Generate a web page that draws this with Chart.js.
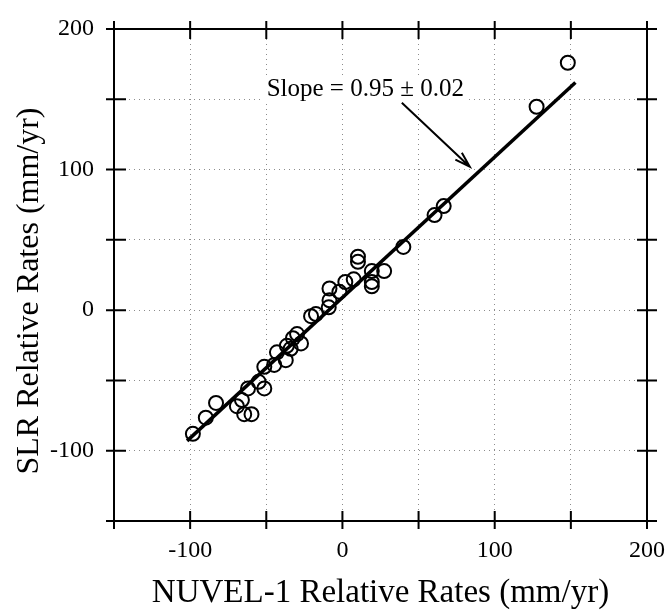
<!DOCTYPE html>
<html>
<head>
<meta charset="utf-8">
<script src="https://cdn.jsdelivr.net/npm/chart.js@4/dist/chart.umd.min.js"></script>
<style>
  html, body { margin: 0; padding: 0; background: #fff; }
  #wrap { width: 665px; height: 614px; }
</style>
</head>
<body>
<div id="wrap"><canvas id="c" width="665" height="614"></canvas></div>
<script>
// NUVEL-1 relative rates (mm/yr) -- x values
const nuvelRates = [
  -98.2, -89.7, -83.0, -69.3, -66.0, -64.5, -59.7, -62.0, -55.0, -51.3,
  -51.3, -44.8, -37.2, -43.0, -36.5, -27.2, -32.5, -29.8, -34.0,
  -20.6, -17.4, -9.0, -8.5, -2.0, -8.5, 1.9, 7.4, 19.3, 19.3,
  19.3, 27.4, 10.2, 10.2, 40.0, 60.5, 66.5, 127.5, 148.0
];
// SLR relative rates (mm/yr) -- y values
const slrRates = [
  -88.0, -76.5, -66.0, -68.3, -64.0, -74.0, -74.0, -55.7, -51.0, -55.7,
  -40.3, -39.0, -35.6, -30.0, -25.4, -23.7, -20.0, -17.0, -27.5,
  -4.3, -2.8, 2.0, 7.0, 13.0, 15.4, 20.0, 21.9, 17.0, 20.0,
  27.8, 27.8, 34.4, 38.0, 45.0, 67.6, 74.0, 144.7, 176.0
];
// Regression line end points
const fitX = [-102, 153];
const fitY = [-93, 162];
// Axis ticks
const axisMin = -150;
const axisMax = 200;
const tickStep = 50;
// Texts
const xTitle = 'NUVEL-1 Relative Rates (mm/yr)';
const yTitle = 'SLR Relative Rates (mm/yr)';
const slopeLabel = 'Slope = 0.95 \u00b1 0.02';
const labelAnchor = [15, 157];
const arrowFrom = [39, 147.5];
const arrowTo = [83.6, 102];

const serif = "'Liberation Serif', 'Times New Roman', serif";

const framePlugin = {
  id: 'frame',
  afterDatasetsDraw(chart) {
    const {ctx, chartArea: a, scales: {x, y}} = chart;
    ctx.save();
    ctx.strokeStyle = '#000';
    ctx.lineWidth = 2;
    ctx.setLineDash([]);
    ctx.strokeRect(a.left, a.top, a.right - a.left, a.bottom - a.top);
    const xt = x.ticks.map(t => t.value);
    const yt = y.ticks.map(t => t.value);
    ctx.beginPath();
    xt.forEach(v => {
      const p = x.getPixelForValue(v);
      ctx.moveTo(p, a.bottom + 8); ctx.lineTo(p, a.bottom - 10);
      ctx.moveTo(p, a.top - 8); ctx.lineTo(p, a.top + 10);
    });
    yt.forEach(v => {
      const p = y.getPixelForValue(v);
      ctx.moveTo(a.left - 8, p); ctx.lineTo(a.left + 12, p);
      ctx.moveTo(a.right - 10, p); ctx.lineTo(a.right + 10, p);
    });
    ctx.stroke();

    // annotation text
    ctx.font = "25px " + serif;
    ctx.textAlign = 'center';
    ctx.textBaseline = 'middle';
    const tx = x.getPixelForValue(labelAnchor[0]);
    const ty = y.getPixelForValue(labelAnchor[1]);
    const w = ctx.measureText(slopeLabel).width;
    ctx.fillStyle = '#fff';
    ctx.fillRect(tx - w / 2 - 3, ty - 13, w + 6, 26);
    ctx.fillStyle = '#000';
    ctx.fillText(slopeLabel, tx, ty);

    // arrow
    const x1 = x.getPixelForValue(arrowFrom[0]), y1 = y.getPixelForValue(arrowFrom[1]);
    const x2 = x.getPixelForValue(arrowTo[0]), y2 = y.getPixelForValue(arrowTo[1]);
    ctx.lineWidth = 2;
    ctx.beginPath();
    ctx.moveTo(x1, y1); ctx.lineTo(x2, y2);
    const ang = Math.atan2(y2 - y1, x2 - x1);
    const hl = 16, hw = 0.3;
    ctx.moveTo(x2 - hl * Math.cos(ang - hw), y2 - hl * Math.sin(ang - hw));
    ctx.lineTo(x2, y2);
    ctx.lineTo(x2 - hl * Math.cos(ang + hw), y2 - hl * Math.sin(ang + hw));
    ctx.stroke();

    // y axis title (drawn slightly below the plot centre, as in the original)
    ctx.font = "32px " + serif;
    ctx.translate(30, (a.top + a.bottom) / 2 + 16);
    ctx.rotate(-Math.PI / 2);
    ctx.textAlign = 'center';
    ctx.textBaseline = 'middle';
    ctx.fillText(yTitle, 0, 0);
    ctx.restore();
  }
};

new Chart(document.getElementById('c'), {
  type: 'scatter',
  data: {
    datasets: [
      {
        label: 'SLR vs NUVEL-1',
        data: nuvelRates.map((v, i) => ({x: v, y: slrRates[i]})),
        pointRadius: 7,
        pointBorderWidth: 2,
        pointBorderColor: '#000',
        pointBackgroundColor: 'rgba(255,255,255,0)',
        showLine: false
      },
      {
        label: 'Fit',
        type: 'line',
        data: fitX.map((v, i) => ({x: v, y: fitY[i]})),
        borderColor: '#000',
        borderWidth: 3.5,
        pointRadius: 0,
        fill: false
      }
    ]
  },
  options: {
    responsive: false,
    animation: false,
    devicePixelRatio: 1,
    layout: { padding: { left: 0, top: 29, right: 18, bottom: 0 } },
    plugins: { legend: { display: false }, tooltip: { enabled: false } },
    scales: {
      x: {
        type: 'linear',
        min: axisMin, max: axisMax,
        afterFit(s) { s.height = 93; s.paddingLeft = 0; s.paddingRight = 0; },
        ticks: {
          stepSize: tickStep,
          padding: 15,
          color: '#000',
          font: { family: serif, size: 24 },
          maxRotation: 0,
          autoSkip: false,
          callback: v => (v % 100 === 0 ? String(v) : '')
        },
        grid: { color: '#8c8c8c', lineWidth: 1, drawTicks: false },
        border: { display: false, dash: [1, 4] },
        title: {
          display: true,
          text: xTitle,
          color: '#000',
          font: { family: serif, size: 33 },
          padding: { top: 0, bottom: 1 }
        }
      },
      y: {
        type: 'linear',
        min: axisMin, max: axisMax,
        afterFit(s) { s.width = 114; s.paddingTop = 0; s.paddingBottom = 0; },
        ticks: {
          stepSize: tickStep,
          padding: 20,
          color: '#000',
          font: { family: serif, size: 24 },
          autoSkip: false,
          callback: v => (v % 100 === 0 ? String(v) : '')
        },
        grid: { color: '#8c8c8c', lineWidth: 1, drawTicks: false },
        border: { display: false, dash: [1, 4] },
        title: { display: false }
      }
    }
  },
  plugins: [framePlugin]
});
</script>
</body>
</html>
